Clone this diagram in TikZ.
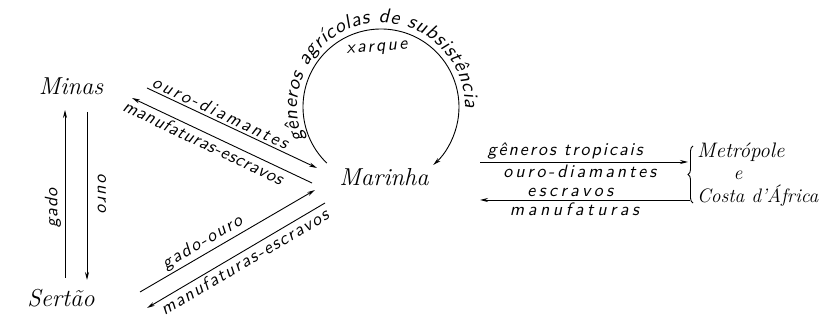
\documentclass[tikz,border=0pt]{standalone}
\usepackage{fontspec}
\usepackage{tikz}
\usetikzlibrary{arrows.meta,positioning,decorations.text,decorations.pathreplacing}

\newfontfamily\goodsface{lmsans10-oblique.otf}
\newcommand{\goodsfont}{\fontsize{18}{20}\selectfont\goodsface}

\begin{document}
\begin{tikzpicture}[x=1pt,y=1pt,
  place/.style={font=\fontsize{24.5}{28}\selectfont\itshape, inner sep=0pt},
  far/.style={font=\fontsize{#1}{22}\selectfont\itshape, inner sep=0pt},
  far/.default=19.5,
  goods/.style={font=\goodsfont\addfontfeatures{LetterSpace=#1}, inner sep=2.5pt},
  goods/.default=10,
  flow/.style={line width=0.9pt, -{Stealth[length=8pt,width=4pt]}},
  backflow/.style={line width=0.9pt, {Stealth[length=8pt,width=4pt]}-}
]
\useasboundingbox (0,0) rectangle (826,323);

% places
\node[place] (minas) at (71,237) {Minas};
\node[place] (sertao) at (61,25) {Sertão};
\node[place] (marinha) at (384,146) {Marinha};
\node[far=21, anchor=base west] (metro) at (697,165) {Metrópole};
\node[far, anchor=base] (e) at (738,143) {e};
\node[far, anchor=base west] (costa) at (697,120) {Costa d'África};

% Minas -- Sertao
\coordinate (g0) at (65,45);
\coordinate (g1) at (65,213);
\coordinate (o0) at (87,211);
\coordinate (o1) at (87,43);
\draw[flow] (g0) -- (g1);
\draw[flow] (o0) -- (o1);
\node[goods=4, rotate=90] (gado) at (53,115) {gado};
\node[goods=11, rotate=-90] (ouro) at (102,130) {ouro};

% Minas -- Marinha
\coordinate (m1a) at (147,235);
\coordinate (m1b) at (317,155);
\coordinate (m2a) at (132,225);
\coordinate (m2b) at (312,140);
\draw[flow] (m1a) -- (m1b) node[goods=14, sloped, above, pos=0.41] (od) {ouro-diamantes};
\draw[backflow] (m2a) -- (m2b) node[goods=4, sloped, below, pos=0.42] (me1) {manufaturas-escravos};

% Sertao -- Marinha
\coordinate (s1a) at (140,31);
\coordinate (s1b) at (315,133);
\coordinate (s2a) at (147,15);
\coordinate (s2b) at (325,120);
\draw[flow] (s1a) -- (s1b) node[goods=10, sloped, above, pos=0.39] (go) {gado-ouro};
\draw[backflow] (s2a) -- (s2b) node[goods=9, sloped, below, pos=0.52] (me2) {manufaturas-escravos};

% loop over Marinha
\coordinate (c) at (381,216);
\draw[flow] ([shift={(226:78)}]c) arc (226:-48:78);
\path[decorate, decoration={text along path, text align={fit to path},
  text format delimiters={|}{|},
  text={|\fontsize{20}{22}\selectfont\goodsface|gêneros agrícolas de subsistência}}]
  ([shift={(203:84)}]c) arc (203:-1:84);
\node[goods=13, rotate=4] (xarque) at (377,274) {xarque};

% Marinha -- Metropole e Costa d'Africa
\coordinate (t0) at (480,161);
\coordinate (t1) at (688,161);
\coordinate (b0) at (690,123);
\coordinate (b1) at (480,123);
\draw[decorate, decoration={brace, amplitude=5pt}, line width=0.9pt] (693,120) -- (693,177);
\draw[flow] (t0) -- (t1)
  node[goods=11, above, pos=0.41] (gt) {gêneros tropicais}
  node[goods=16, below, pos=0.48] (od2) {ouro-diamantes};
\draw[flow] (b0) -- (b1)
  node[goods=19, above, pos=0.57] (esc) {escravos}
  node[goods=20, below, pos=0.55] (man) {manufaturas};

\end{tikzpicture}
\end{document}
